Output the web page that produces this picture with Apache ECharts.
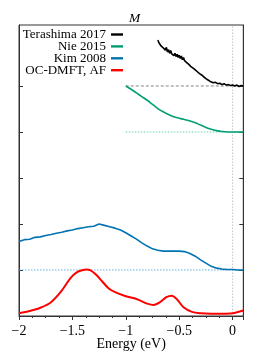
<!DOCTYPE html>
<html><head><meta charset="utf-8">
<script src="https://cdn.jsdelivr.net/npm/echarts@6/dist/echarts.min.js"></script>
<style>html,body{margin:0;padding:0;background:#fff}#c{width:266px;height:355px}</style>
</head><body><div id="c"></div>
<script>
const xTicks = [-2, -1.5, -1, -0.5, 0];
const yTicks = [0, 1, 2, 3, 4, 5];
const names = ['Terashima 2017', 'Nie 2015', 'Kim 2008', 'OC-DMFT, AF'];
const colors = ['#000000', '#029E73', '#0173B2', '#FF0000'];
const baseColors = ['#777777', '#5cc9a7', '#56a8dc'];
const offsets = [5, 4, 1, 0];

const blackX = [-0.70,-0.69,-0.68,-0.67,-0.66,-0.65,-0.64,-0.63,-0.62,-0.61,-0.60,-0.59,-0.58,-0.57,-0.56,-0.55,-0.54,-0.53,-0.52,-0.51,-0.50,-0.49,-0.48,-0.47,-0.46,-0.45,-0.44,-0.43,-0.42,-0.41,-0.40,-0.39,-0.38,-0.37,-0.36,-0.35,-0.34,-0.33,-0.32,-0.31,-0.30,-0.29,-0.28,-0.27,-0.26,-0.25,-0.24,-0.23,-0.22,-0.21,-0.20,-0.18,-0.16,-0.14,-0.12,-0.10,-0.08,-0.06,-0.04,-0.02,0.00,0.02,0.04,0.06,0.08,0.10];
const blackY = [1.00,0.94,0.96,0.87,0.91,0.83,0.86,0.78,0.84,0.74,0.79,0.71,0.77,0.70,0.74,0.66,0.71,0.64,0.69,0.62,0.67,0.60,0.65,0.57,0.62,0.55,0.59,0.51,0.55,0.47,0.50,0.42,0.46,0.39,0.43,0.35,0.37,0.31,0.34,0.27,0.29,0.24,0.25,0.20,0.21,0.16,0.17,0.13,0.13,0.10,0.11,0.07,0.08,0.05,0.06,0.03,0.05,0.02,0.03,0.01,0.02,0.00,0.02,-0.01,0.01,0.00];

const greenX = [-1.0,-0.95,-0.9,-0.85,-0.8,-0.75,-0.7,-0.65,-0.6,-0.55,-0.5,-0.45,-0.4,-0.35,-0.3,-0.25,-0.2,-0.15,-0.1,-0.05,0,0.05,0.1];
const greenY = [1.0,0.93,0.85,0.77,0.69,0.60,0.51,0.44,0.38,0.33,0.30,0.27,0.24,0.20,0.15,0.10,0.06,0.03,0.01,0.0,0.0,0.0,0.0];

const blueX = [-2.0,-1.95,-1.9,-1.85,-1.8,-1.75,-1.7,-1.65,-1.6,-1.55,-1.5,-1.45,-1.4,-1.35,-1.3,-1.25,-1.2,-1.15,-1.1,-1.05,-1.0,-0.95,-0.9,-0.85,-0.8,-0.75,-0.7,-0.65,-0.6,-0.55,-0.5,-0.45,-0.4,-0.35,-0.3,-0.25,-0.2,-0.15,-0.1,-0.05,0,0.05,0.1];
const blueY = [0.62,0.66,0.67,0.71,0.72,0.75,0.77,0.80,0.82,0.85,0.87,0.90,0.92,0.94,0.95,1.00,0.97,0.94,0.91,0.87,0.81,0.74,0.67,0.59,0.52,0.46,0.43,0.41,0.41,0.41,0.41,0.40,0.36,0.30,0.22,0.15,0.08,0.04,0.02,0.01,0.01,0.0,0.0];

const redX = [-2.0,-1.9,-1.8,-1.7,-1.6,-1.52,-1.46,-1.40,-1.37,-1.33,-1.28,-1.22,-1.16,-1.10,-1.0,-0.9,-0.8,-0.74,-0.68,-0.62,-0.57,-0.52,-0.46,-0.38,-0.3,-0.2,-0.1,0,0.1];
const redY = [0.06,0.11,0.18,0.30,0.55,0.82,0.95,1.0,1.01,0.99,0.90,0.75,0.60,0.52,0.43,0.37,0.27,0.24,0.30,0.41,0.44,0.36,0.19,0.09,0.06,0.05,0.05,0.06,0.12];

const baseStart = [-1, -1, -2];
const fermi = 0;

const xs = [blackX, greenX, blueX, redX];
const ys = [blackY, greenY, blueY, redY];
const font = '"Liberation Serif", "DejaVu Serif", serif';
const fmt = v => (v < 0 ? '\u2212' + Math.abs(v) : String(v));

const series = [];
series.push({
  type: 'line', showSymbol: false, silent: true,
  data: [[fermi, 0], [fermi, 6.326]],
  lineStyle: { color: '#bdbdbd', width: 0.9, type: [1.5, 1.5] }, z: 2
});
names.forEach((n, i) => {
  series.push({
    name: n, type: 'line', showSymbol: false, smooth: (i === 0 || i === 2) ? false : 0.3,
    data: xs[i].map((x, k) => [x, ys[i][k] + offsets[i]]),
    lineStyle: { color: colors[i], width: i === 3 ? 2 : 1.6 },
    itemStyle: { color: colors[i] }, z: 5
  });
});
[0, 1, 2].forEach(i => {
  series.push({
    type: 'line', showSymbol: false, silent: true,
    data: [[baseStart[i], offsets[i]], [0.1, offsets[i]]],
    lineStyle: { color: baseColors[i], width: 0.9, type: i === 0 ? [3, 2] : [1.5, 1.5] },
    z: 3
  });
});

const legends = names.map((n, i) => ({
  data: [n], right: 143, top: 28 + i * 11.9, align: 'right', icon: 'rect',
  itemWidth: 12, itemHeight: 2.4, itemGap: 0, padding: 0, selectedMode: false,
  textStyle: { fontFamily: font, fontSize: 13, color: '#000', padding: [0, 0, 0, 0] }
}));

const yAxisBase = pos => ({
  type: 'value', position: pos, min: 0, max: 6.326, interval: 1,
  axisLabel: { show: false, customValues: yTicks },
  axisLine: { show: true, onZero: false, lineStyle: { color: '#333' } },
  axisTick: { show: true, inside: true, length: 4, customValues: yTicks, lineStyle: { color: '#333' } },
  splitLine: { show: false }
});

const chart = echarts.init(document.getElementById('c'), null, { renderer: 'canvas' });
chart.setOption({
  animation: false,
  title: { text: 'M', left: 124, top: 6, textStyle: { fontFamily: font, fontStyle: 'italic', fontWeight: 'normal', fontSize: 13.5, color: '#000' } },
  legend: legends,
  grid: { left: 19, right: 22.7, top: 25, bottom: 39, show: true, borderColor: '#333', borderWidth: 1, containLabel: false, outerBoundsMode: 'none' },
  xAxis: {
    type: 'value', min: -2, max: 0.1, interval: 0.5,
    name: 'Energy (eV)', nameLocation: 'middle', nameGap: 21, nameMoveOverlap: false,
    nameTextStyle: { fontFamily: font, fontSize: 14, color: '#000' },
    axisLine: { show: true, onZero: false, lineStyle: { color: '#333', width: 1 } },
    axisTick: { show: true, inside: false, length: 4, lineStyle: { color: '#333' } },
    minorTick: { show: true, splitNumber: 4, length: 2, lineStyle: { color: '#333' } },
    axisLabel: { fontFamily: font, fontSize: 14, color: '#000', margin: 8, formatter: fmt, showMaxLabel: false },
    splitLine: { show: false }
  },
  yAxis: [yAxisBase('left'), yAxisBase('right')],
  series: series
});
</script></body></html>
